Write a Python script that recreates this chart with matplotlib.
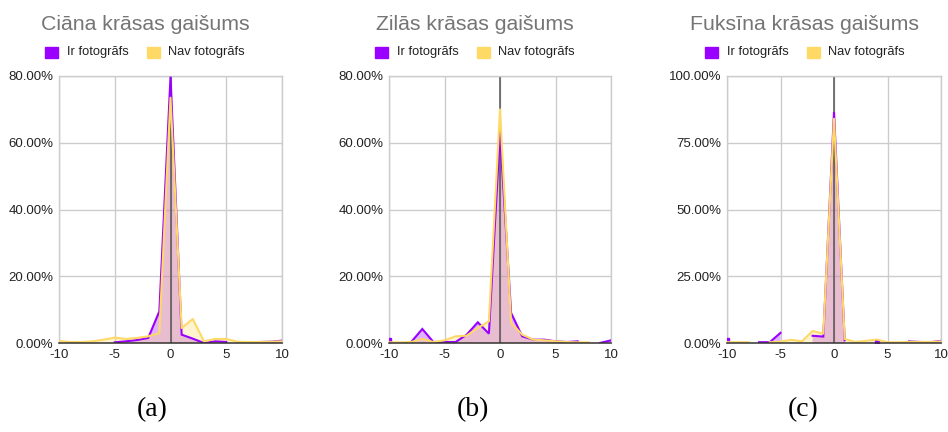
import numpy as np
import matplotlib.pyplot as plt
from matplotlib.patches import Rectangle

# x = nobīde no -10 līdz 10, vērtības procentos (None = nav datu)
x_vals = list(range(-10, 11))

cian_ir = [None, None, None, None, None, 0.2, 0.5, 0.9, 1.5, 9.5, 79.8,
           2.5, 1.3, 0.0, 0.5, 0.3, None, 0.2, 0.3, 0.4, 0.7]
cian_nav = [0.6, 0.3, 0.3, 0.5, 1.0, 1.6, 1.2, 1.5, 2.0, 3.0, 73.5,
            4.5, 7.2, 0.5, 1.2, 1.2, 0.4, 0.3, 0.3, 0.4, 0.5]

zila_ir = [1.0, None, 0.3, 4.2, 0.3, 0.3, 0.3, 2.5, 6.2, 2.8, 63.0,
           9.0, 2.0, 1.0, 1.0, 0.5, 0.3, 0.5, None, 0.0, 0.8]
zila_nav = [0.2, 0.2, 0.3, 1.2, 0.3, 0.8, 2.0, 2.2, 4.5, 6.5, 70.0,
            6.0, 2.5, 1.0, 0.8, 0.5, 0.3, 0.2, 0.2, None, None]

fuks_ir = [1.3, None, None, 0.3, 0.3, 3.8, None, None, 2.7, 2.4, 86.5,
           1.0, None, None, 0.3, None, None, 0.6, 0.4, 0.3, 0.8]
fuks_nav = [0.3, 0.3, 0.3, None, 0.3, 0.5, 1.2, 0.6, 4.5, 3.5, 84.0,
            1.5, 0.4, 0.8, 1.3, 0.3, 0.3, 0.4, 0.4, 0.4, 0.6]

titles = ['Ciāna krāsas gaišums', 'Zilās krāsas gaišums', 'Fuksīna krāsas gaišums']
captions = ['(a)', '(b)', '(c)']
series_names = ['Ir fotogrāfs', 'Nav fotogrāfs']
y_ticks = [[0, 20, 40, 60, 80], [0, 20, 40, 60, 80], [0, 25, 50, 75, 100]]
x_ticks = [-10, -5, 0, 5, 10]

PURPLE = '#9900ff'
YELLOW = '#ffd966'
W, H = 948, 432

# paneļu novietojums pikseļos: kreisā mala, platums
panels = [(59, 223), (389, 222), (727, 214)]
ax_top, ax_bottom = 76, 343
title_x = [145, 475, 805]
legend_x = [45, 375, 705]
caption_x = [152, 473, 803]

data = [(cian_ir, cian_nav), (zila_ir, zila_nav), (fuks_ir, fuks_nav)]

plt.rcParams['font.family'] = ['Liberation Sans', 'DejaVu Sans']
plt.rcParams['axes.unicode_minus'] = False
fig = plt.figure(figsize=(W / 100, H / 100), dpi=100)


def fx(px):
    return px / W


def fy(py):
    return 1 - py / H


def isolated(y):
    # punkti bez kaimiņiem - līnija tos nezīmē, tāpēc punkts
    idx = []
    for i in range(len(y)):
        if np.isnan(y[i]):
            continue
        left = i == 0 or np.isnan(y[i - 1])
        right = i == len(y) - 1 or np.isnan(y[i + 1])
        if left and right:
            idx.append(i)
    return idx


x = np.array(x_vals, dtype=float)
for n, (left, width) in enumerate(panels):
    ax = fig.add_axes([fx(left), fy(ax_bottom), fx(width), (ax_bottom - ax_top) / H])
    ir = np.array(data[n][0], dtype=float)
    nav = np.array(data[n][1], dtype=float)

    ax.fill_between(x, ir, 0, where=~np.isnan(ir), color=PURPLE, alpha=0.3, lw=0, zorder=1)
    ax.fill_between(x, nav, 0, where=~np.isnan(nav), color=YELLOW, alpha=0.3, lw=0, zorder=1.1)
    ax.axvline(0, color='#555555', lw=1.1, zorder=1.5)
    ax.plot(x, ir, color=PURPLE, lw=1.5, zorder=3, solid_joinstyle='miter')
    ax.plot(x, nav, color=YELLOW, lw=1.5, zorder=3.1)
    for i in isolated(ir):
        ax.plot(x[i], ir[i], 's', color=PURPLE, ms=2.5, zorder=3)
    for i in isolated(nav):
        ax.plot(x[i], nav[i], 's', color=YELLOW, ms=2.5, zorder=3.1)

    ax.set_xlim(-10, 10)
    ax.set_ylim(y_ticks[n][0], y_ticks[n][-1])
    ax.set_xticks(x_ticks)
    ax.set_yticks(y_ticks[n])
    ax.set_yticklabels([f'{v:.2f}%' for v in y_ticks[n]])
    ax.grid(True, color='#cccccc', lw=1, zorder=0)
    ax.set_axisbelow(True)
    for side in ['top', 'left', 'right']:
        ax.spines[side].set_color('#cccccc')
        ax.spines[side].set_linewidth(1)
    ax.spines['bottom'].set_color('#333333')
    ax.spines['bottom'].set_linewidth(1.1)
    ax.spines['bottom'].set_zorder(4)
    ax.tick_params(length=0, labelsize=9.5, colors='#222222', pad=4)

    fig.text(fx(title_x[n]), fy(25), titles[n], ha='center', va='center',
             fontsize=15.3, color='#757575')

    # leģenda
    lx = legend_x[n]
    fig.add_artist(Rectangle((fx(lx), fy(58)), fx(13), 11 / H, color=PURPLE,
                             transform=fig.transFigure))
    fig.text(fx(lx + 22), fy(52.5), series_names[0], va='center', fontsize=9.3, color='#222222')
    fig.add_artist(Rectangle((fx(lx + 102), fy(58)), fx(13), 11 / H, color=YELLOW,
                             transform=fig.transFigure))
    fig.text(fx(lx + 123), fy(52.5), series_names[1], va='center', fontsize=9.3, color='#222222')

    fig.text(fx(caption_x[n]), fy(410), captions[n], ha='center', va='center',
             fontsize=20, family='Liberation Serif', color='black')

fig.savefig('out.png', dpi=100, facecolor='white')
